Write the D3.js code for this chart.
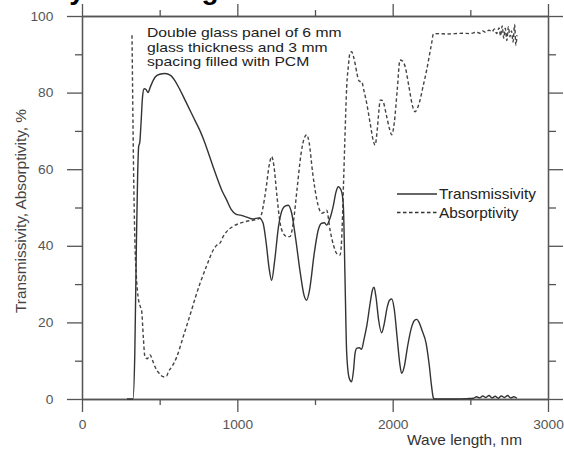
<!DOCTYPE html>
<html>
<head>
<meta charset="utf-8">
<script src="https://cdn.jsdelivr.net/npm/d3@7"></script>
<style>
  html, body { margin: 0; padding: 0; background: #fff; }
  svg { display: block; }
  text { font-family: "Liberation Sans", Arial, sans-serif; }
</style>
</head>
<body>
<svg id="chart" width="564" height="449"></svg>
<script>
// Wavelength ticks (nm) and percentage ticks
const xMajorTicks = [0, 1000, 2000, 3000];
const xMinorTicks = [500, 1500, 2500];
const yMajorTicks = [0, 20, 40, 60, 80, 100];
const yMinorTicks = [10, 30, 50, 70, 90];

// Transmissivity spectrum (%)
const transWave = [290, 328, 340, 350, 358, 365, 372, 380, 390, 400, 412, 425, 440, 470, 500, 534, 570, 600, 631, 670, 700, 730, 760, 790, 820, 845, 867, 900, 931, 960, 990, 1020, 1060, 1100, 1140, 1165, 1185, 1205, 1221, 1240, 1265, 1290, 1310, 1328, 1350, 1375, 1405, 1430, 1446, 1465, 1495, 1520, 1543, 1560, 1575, 1595, 1618, 1635, 1650, 1665, 1675, 1683, 1693, 1704, 1720, 1736, 1748, 1758, 1770, 1785, 1800, 1815, 1833, 1855, 1870, 1880, 1893, 1910, 1929, 1945, 1965, 1980, 1994, 2010, 2030, 2045, 2058, 2075, 2095, 2120, 2140, 2155, 2170, 2190, 2215, 2235, 2250, 2262, 2270, 2400, 2480, 2520, 2540, 2560, 2580, 2600, 2620, 2640, 2660, 2680, 2700, 2720, 2740, 2760, 2780, 2800];
const transValue = [0, 0, 12, 40, 58, 66, 67, 72, 79, 81, 80.8, 80, 81.5, 84, 84.8, 85, 84.5, 83, 80.7, 77.5, 75, 72.5, 70, 67, 63.5, 60.5, 58, 54.5, 52, 49.5, 48.3, 48, 47.5, 47, 47.3, 46, 41, 34, 31, 36, 45, 49.5, 50.4, 50.6, 48.5, 42, 33, 27, 25.8, 28.5, 38, 44, 45.9, 46, 45.4, 47, 50.5, 54, 55.4, 54.8, 53.5, 50, 32, 12, 5.5, 4.5, 7.5, 12, 13.3, 13.4, 13, 15.5, 19, 25, 28.5, 29.2, 26.5, 20.5, 17.3, 19.5, 24, 25.8, 26.1, 23.5, 15.5, 9.5, 6.7, 8.5, 13.5, 18.5, 20.5, 20.8, 20, 17.8, 14.6, 9, 3.5, 0.3, 0, 0, 0.1, 0.2, 0.6, 0.3, 0.8, 0.4, 0.9, 0.3, 0.7, 0.2, 0.8, 0.4, 0.9, 0.3, 0.6, 0.2];

// Absorptivity spectrum (%)
const absWave = [322, 326, 332, 340, 350, 361, 372, 384, 395, 405, 420, 438, 455, 470, 495, 524, 545, 556, 580, 610, 652, 700, 730, 760, 800, 845, 870, 888, 910, 931, 970, 1017, 1060, 1103, 1146, 1165, 1185, 1205, 1221, 1235, 1255, 1275, 1300, 1320, 1339, 1360, 1385, 1410, 1430, 1446, 1462, 1485, 1512, 1528, 1543, 1560, 1575, 1597, 1620, 1640, 1661, 1672, 1683, 1694, 1704, 1715, 1725, 1736, 1747, 1758, 1770, 1780, 1790, 1800, 1815, 1833, 1855, 1875, 1887, 1900, 1912, 1919, 1930, 1940, 1960, 1980, 1994, 2010, 2030, 2047, 2062, 2080, 2105, 2125, 2144, 2160, 2176, 2195, 2219, 2240, 2251, 2262, 2300, 2350, 2400, 2450, 2500, 2520, 2540, 2560, 2580, 2600, 2620, 2640, 2655, 2670, 2685, 2695, 2705, 2715, 2725, 2735, 2745, 2755, 2765, 2775, 2785, 2793, 2800];
const absValue = [95, 80, 60, 42, 32, 26.7, 24.5, 23, 16, 11, 10.5, 11.5, 10, 8.4, 6.8, 5.8, 6, 7.1, 8.5, 11, 16.3, 22.5, 26.5, 30.2, 34.5, 38.9, 40.3, 40.7, 42.5, 43.7, 45, 45.9, 46.4, 46.7, 47.2, 50, 55, 61, 63.3, 61, 53, 46, 43, 42.4, 42.4, 46, 55, 64, 68, 69, 67, 59, 52, 49.5, 48.5, 48.8, 49.3, 44.1, 40, 38, 37.6, 42, 55.4, 70, 81.5, 87, 90.3, 90.7, 89.5, 87.6, 85, 83.3, 82.9, 82.9, 80.5, 77.2, 72, 67.5, 66.3, 70, 75.5, 78, 78, 77.5, 74, 70.5, 69, 72, 81, 88.5, 88.3, 86.8, 81.5, 77, 75, 76, 78, 81.5, 85.9, 90.5, 92.9, 95.3, 95.4, 95.3, 95.4, 95.5, 95.4, 95.6, 95.8, 95.5, 96.1, 95.7, 96.3, 95.9, 96.6, 95.4, 96.9, 94.8, 97.4, 94.2, 96.8, 93.6, 97.2, 94.6, 96.1, 93.2, 97.8, 92.4, 95];

const seriesNames = ["Transmissivity", "Absorptivity"];
const noteLines = ["Double glass panel of 6 mm", "glass thickness and 3 mm", "spacing filled with PCM"];

const svg = d3.select("#chart");
const x = d3.scaleLinear().domain([0, 3000]).range([82, 548]);
const y = d3.scaleLinear().domain([0, 100]).range([399, 16]);

const axisColor = "#555";
const sx = 1.1; // horizontal stretch of lettering

function styleAxis(g) {
  g.selectAll("path.domain").attr("stroke", axisColor).attr("stroke-width", 1.3);
  g.selectAll(".tick line").attr("stroke", axisColor).attr("stroke-width", 1.3);
  g.selectAll(".tick text").attr("fill", "#555").attr("font-size", 12.5)
    .attr("font-family", "'Liberation Sans', Arial, sans-serif");
}

// Minor ticks first, majors on top
[
  [d3.axisBottom(x).tickValues(xMinorTicks).tickSize(6).tickSizeOuter(0).tickFormat(""), `translate(0,${y(0)})`],
  [d3.axisTop(x).tickValues(xMinorTicks).tickSize(6).tickSizeOuter(0).tickFormat(""), `translate(0,${y(100)})`],
  [d3.axisLeft(y).tickValues(yMinorTicks).tickSize(7).tickSizeOuter(0).tickFormat(""), `translate(${x(0)},0)`],
  [d3.axisRight(y).tickValues(yMinorTicks).tickSize(8).tickSizeOuter(0).tickFormat(""), `translate(${x(3000)},0)`],
  [d3.axisTop(x).tickValues(xMajorTicks).tickSize(12).tickSizeOuter(0).tickFormat(""), `translate(0,${y(100)})`],
  [d3.axisRight(y).tickValues(yMajorTicks).tickSize(15).tickSizeOuter(0).tickFormat(""), `translate(${x(3000)},0)`]
].forEach(([ax, tr]) => svg.append("g").attr("transform", tr).call(ax).call(styleAxis));

const gBottom = svg.append("g").attr("transform", `translate(0,${y(0)})`)
  .call(d3.axisBottom(x).tickValues(xMajorTicks).tickSize(13).tickSizeOuter(0).tickPadding(8).tickFormat(d3.format("d")))
  .call(styleAxis);
gBottom.selectAll(".tick text").attr("transform", `scale(${sx},1)`);

const gLeft = svg.append("g").attr("transform", `translate(${x(0)},0)`)
  .call(d3.axisLeft(y).tickValues(yMajorTicks).tickSize(15).tickSizeOuter(0).tickPadding(11).tickFormat(d3.format("d")))
  .call(styleAxis);
gLeft.selectAll(".tick text").attr("transform", `scale(${sx},1)`);

// Spectral curves
const line = d3.line().x(d => x(d[0])).y(d => y(d[1])).curve(d3.curveMonotoneX);
const transData = transWave.map((w, i) => [w, transValue[i]]);
const absData = absWave.map((w, i) => [w, absValue[i]]);

svg.append("path").datum(absData).attr("d", line)
  .attr("fill", "none").attr("stroke", "#444").attr("stroke-width", 1.4)
  .attr("stroke-dasharray", "3.5,2.5");
svg.append("path").datum(transData).attr("d", line)
  .attr("fill", "none").attr("stroke", "#333").attr("stroke-width", 1.4);

// Stretched text helper
function label(px, py, str, opts = {}) {
  return svg.append("text")
    .attr("transform", `translate(${px},${py}) scale(${opts.sx ?? sx},1)`)
    .attr("text-anchor", opts.anchor || "start")
    .attr("font-size", opts.size || 14)
    .attr("fill", opts.fill || "#222")
    .text(str);
}

// Panel description
noteLines.forEach((s, i) => label(147, 37 + i * 14.6, s, { size: 13.2, sx: 1.19 }));

// Legend
const legendX0 = 397, legendX1 = 437;
[[194, null], [212.5, "3.5,2.5"]].forEach(([ly, dash], i) => {
  const l = svg.append("line").attr("x1", legendX0).attr("x2", legendX1)
    .attr("y1", ly).attr("y2", ly).attr("stroke", "#333").attr("stroke-width", 1.4);
  if (dash) l.attr("stroke-dasharray", dash);
  label(439, ly + 5, seriesNames[i], { size: 14 });
});

// Axis titles
label(522, 445, "Wave length, nm", { size: 14, anchor: "end", fill: "#333" });
svg.append("text")
  .attr("transform", `translate(26,211) rotate(-90) scale(${sx},1)`)
  .attr("text-anchor", "middle").attr("font-size", 14).attr("fill", "#444")
  .text("Transmissivity, Absorptivity, %");

// Heading above the frame
svg.append("text").attr("x", 7).attr("y", -1)
  .attr("font-family", "'Liberation Serif', 'Times New Roman', serif")
  .attr("font-weight", "bold").attr("font-size", 28).attr("fill", "#000")
  .text("Study of solar gain");
</script>
</body>
</html>
